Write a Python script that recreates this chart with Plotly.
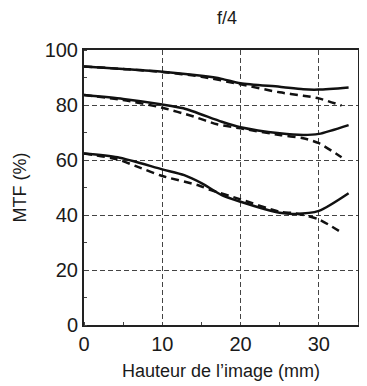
import plotly.graph_objects as go

# Data (image height in mm vs MTF %)
top_solid_x = [0, 5, 10, 15, 17.6, 20, 25, 28, 30, 33.8]
top_solid_y = [94.0, 93.1, 92.1, 90.6, 89.5, 87.9, 86.6, 85.7, 85.6, 86.4]
top_dash_x = [0, 5, 10, 15, 20, 25, 28, 30, 32.9]
top_dash_y = [94.0, 93.1, 92.0, 90.3, 87.5, 84.6, 83.4, 82.4, 79.8]

mid_solid_x = [0, 5, 10, 12.7, 17.6, 20, 25, 28, 30, 33.8]
mid_solid_y = [83.6, 82.2, 80.2, 78.8, 73.9, 71.9, 69.7, 69.1, 69.5, 72.7]
mid_dash_x = [0, 5, 10, 14, 17, 20, 25, 28, 30, 32.9]
mid_dash_y = [83.6, 81.8, 79.0, 75.8, 73.0, 71.5, 69.1, 67.9, 66.1, 61.0]

bot_solid_x = [0, 4.3, 10, 12.8, 15, 17.6, 20, 25, 26.9, 30, 33.8]
bot_solid_y = [62.4, 61.0, 56.6, 54.5, 51.6, 47.2, 44.8, 40.8, 40.4, 41.5, 47.9]
bot_dash_x = [0, 4.3, 6.8, 10, 14.5, 16.2, 20, 25, 27, 30, 32.9]
bot_dash_y = [62.4, 60.2, 57.6, 54.2, 50.9, 49.1, 45.7, 41.2, 40.6, 38.4, 33.6]

x_ticks = [0, 10, 20, 30]
y_ticks = [0, 20, 40, 60, 80, 100]

FONT = "Liberation Sans, Arial, sans-serif"

fig = go.Figure()
series = [
    (top_solid_x, top_solid_y, "solid"),
    (top_dash_x, top_dash_y, "dash"),
    (mid_solid_x, mid_solid_y, "solid"),
    (mid_dash_x, mid_dash_y, "dash"),
    (bot_solid_x, bot_solid_y, "solid"),
    (bot_dash_x, bot_dash_y, "dash"),
]
for xs, ys, d in series:
    fig.add_trace(go.Scatter(
        x=xs, y=ys, mode="lines",
        line=dict(color="#111111", width=2.5, dash=("8px,5px" if d == "dash" else "solid"),
                  shape="spline", smoothing=0.7),
        showlegend=False, hoverinfo="skip",
    ))

axis_common = dict(
    showline=True, linecolor="#222222", linewidth=2, mirror=True,
    showgrid=True, gridcolor="#444444", gridwidth=1, griddash="5px,3px",
    zeroline=False, ticks="", automargin=False,
    tickfont=dict(family=FONT, size=20, color="#1a1a1a"),
)

fig.update_xaxes(
    range=[0, 35], tickvals=x_ticks, ticktext=[str(v) for v in x_ticks],
    minor=dict(dtick=5, tick0=0, ticks="inside", ticklen=3, tickcolor="#444444", showgrid=False),
    title=dict(text="Hauteur de l’image (mm)", font=dict(family=FONT, size=18, color="#1a1a1a"), standoff=10),
    **axis_common,
)
fig.update_yaxes(
    range=[0, 100], tickvals=y_ticks, ticktext=[str(v) for v in y_ticks],
    minor=dict(dtick=10, tick0=0, ticks="inside", ticklen=3, tickcolor="#444444", showgrid=False),
    title=dict(text="MTF (%)", font=dict(family=FONT, size=18, color="#1a1a1a"), standoff=13),
    **axis_common,
)

# The page body has an 8px default margin, so the figure is sized/offset to compensate.
fig.update_layout(
    width=359, height=378,
    margin=dict(l=76, r=9, t=42, b=61),
    paper_bgcolor="white", plot_bgcolor="white",
    title=dict(text="f/4", x=0.61, xanchor="center", y=0.974, yanchor="middle",
               font=dict(family=FONT, size=18, color="#1a1a1a")),
)

fig.write_html("out.html")
